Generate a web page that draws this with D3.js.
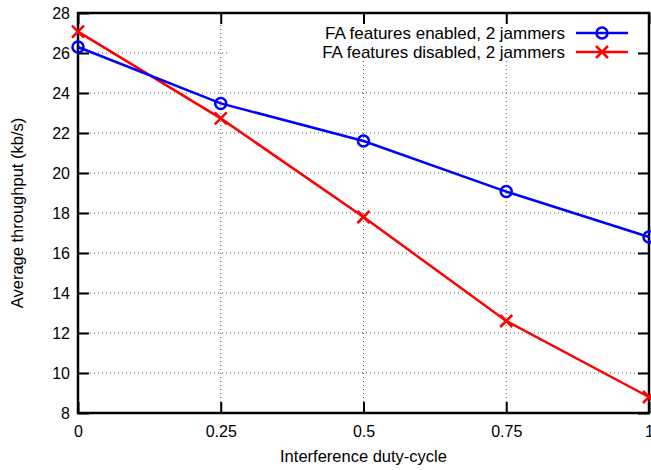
<!DOCTYPE html>
<html>
<head>
<meta charset="utf-8">
<script src="https://cdn.jsdelivr.net/npm/d3@7"></script>
<style>
  body { margin: 0; background: #fff; }
  svg { font-family: "Liberation Sans", Arial, sans-serif; }
</style>
</head>
<body>
<div id="chart"></div>
<script>
var svgWidth = 651;
var svgHeight = 470;
var margin = { top: 13, right: 2, bottom: 57, left: 78 };

var width = svgWidth - margin.left - margin.right;
var height = svgHeight - margin.top - margin.bottom;

// Data
var dutyCycle = [0, 0.25, 0.5, 0.75, 1];
var enabledThroughput = [26.3, 23.48, 21.6, 19.07, 16.8];
var disabledThroughput = [27.07, 22.73, 17.8, 12.6, 8.8];
var seriesNames = ["FA features enabled, 2 jammers", "FA features disabled, 2 jammers"];
var xTicks = [0, 0.25, 0.5, 0.75, 1];
var xTickLabels = ["0", "0.25", "0.5", "0.75", "1"];
var yTicks = [8, 10, 12, 14, 16, 18, 20, 22, 24, 26, 28];

var svg = d3.select("#chart")
  .append("svg")
  .attr("width", svgWidth)
  .attr("height", svgHeight);

var chartGroup = svg.append("g")
  .attr("transform", `translate(${margin.left}, ${margin.top})`);

var xScale = d3.scaleLinear().domain([0, 1]).range([0, width]);
var yScale = d3.scaleLinear().domain([8, 28]).range([height, 0]);

// Grid lines (dotted)
var grid = chartGroup.append("g").attr("class", "grid");
grid.selectAll("line.gy")
  .data(yTicks.slice(1, -1))
  .enter()
  .append("line")
  .attr("x1", 0).attr("x2", width)
  .attr("y1", d => yScale(d)).attr("y2", d => yScale(d));
grid.selectAll("line.gx")
  .data(xTicks.slice(1, -1))
  .enter()
  .append("line")
  .attr("x1", d => xScale(d)).attr("x2", d => xScale(d))
  .attr("y1", 0).attr("y2", height);
grid.selectAll("line")
  .attr("stroke", "#555")
  .attr("stroke-width", 1)
  .attr("stroke-dasharray", "1,3");

// Legend background hides grid behind it
chartGroup.append("rect")
  .attr("x", 228 - margin.left)
  .attr("y", 20 - margin.top)
  .attr("width", 636 - 228)
  .attr("height", 40)
  .attr("fill", "#fff");

// Axes with inward ticks, mirrored on top and right
var tickLen = 11;
var bottomAxis = d3.axisBottom(xScale).tickValues(xTicks)
  .tickFormat((d, i) => xTickLabels[i]).tickSizeInner(-tickLen).tickSizeOuter(0).tickPadding(13);
var topAxis = d3.axisTop(xScale).tickValues(xTicks).tickFormat("").tickSizeInner(-tickLen).tickSizeOuter(0);
var leftAxis = d3.axisLeft(yScale).tickValues(yTicks).tickSizeInner(-tickLen).tickSizeOuter(0).tickPadding(8);
var rightAxis = d3.axisRight(yScale).tickValues(yTicks).tickFormat("").tickSizeInner(-tickLen).tickSizeOuter(0);

var gBottom = chartGroup.append("g").attr("transform", `translate(0, ${height})`).call(bottomAxis);
var gTop = chartGroup.append("g").call(topAxis);
var gLeft = chartGroup.append("g").call(leftAxis);
var gRight = chartGroup.append("g").attr("transform", `translate(${width}, 0)`).call(rightAxis);

[gBottom, gTop, gLeft, gRight].forEach(function (g) {
  g.select(".domain").remove();
  g.selectAll(".tick line").attr("stroke", "#000").attr("stroke-width", 2);
  g.selectAll(".tick text").attr("fill", "#000").style("font-size", "16px")
    .style("font-family", "'Liberation Sans', Arial, sans-serif");
});

// hide mirrored ticks that would sit under the legend
gRight.selectAll(".tick").filter(d => d === 28).remove();

// Frame
chartGroup.append("rect")
  .attr("x", 0).attr("y", 0)
  .attr("width", width).attr("height", height)
  .attr("fill", "none")
  .attr("stroke", "#000")
  .attr("stroke-width", 2.5);

// Lines
var series = [
  { name: seriesNames[0], values: enabledThroughput, color: "#0000ff", marker: "circle" },
  { name: seriesNames[1], values: disabledThroughput, color: "#ff0000", marker: "cross" }
];

var line = d3.line()
  .x((d, i) => xScale(dutyCycle[i]))
  .y(d => yScale(d));

function drawMarker(g, type, color, x, y) {
  if (type === "circle") {
    g.append("circle")
      .attr("cx", x).attr("cy", y).attr("r", 5.5)
      .attr("fill", "none").attr("stroke", color).attr("stroke-width", 2.5);
  } else {
    var s = 6;
    g.append("path")
      .attr("d", `M${x - s},${y - s}L${x + s},${y + s}M${x - s},${y + s}L${x + s},${y - s}`)
      .attr("stroke", color).attr("stroke-width", 2.5).attr("fill", "none");
  }
}

series.slice().reverse().forEach(function (s) {
  chartGroup.append("path")
    .datum(s.values)
    .attr("d", line)
    .attr("fill", "none")
    .attr("stroke", s.color)
    .attr("stroke-width", 2.5);
  var mg = chartGroup.append("g");
  s.values.forEach(function (v, i) {
    drawMarker(mg, s.marker, s.color, xScale(dutyCycle[i]), yScale(v));
  });
});

// Legend
var legend = svg.append("g");
series.forEach(function (s, i) {
  var y = 33 + i * 19;
  legend.append("text")
    .attr("x", 565).attr("y", y)
    .attr("dy", "0.35em")
    .attr("text-anchor", "end")
    .style("font-size", "17px")
    .text(s.name);
  legend.append("line")
    .attr("x1", 576).attr("x2", 628)
    .attr("y1", y).attr("y2", y)
    .attr("stroke", s.color).attr("stroke-width", 2.5);
  drawMarker(legend, s.marker, s.color, 602, y);
});

// Axis labels
svg.append("text")
  .attr("x", margin.left + width / 2)
  .attr("y", 462)
  .attr("text-anchor", "middle")
  .style("font-size", "16.5px")
  .text("Interference duty-cycle");

svg.append("text")
  .attr("transform", `translate(23, ${margin.top + height / 2}) rotate(-90)`)
  .attr("text-anchor", "middle")
  .style("font-size", "16.5px")
  .text("Average throughput (kb/s)");
</script>
</body>
</html>
